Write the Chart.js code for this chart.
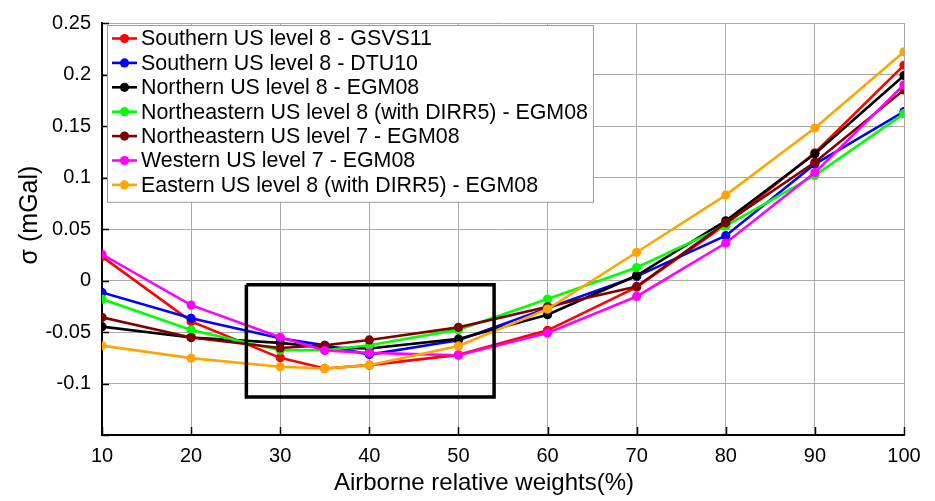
<!DOCTYPE html>
<html>
<head>
<meta charset="utf-8">
<script src="https://cdn.jsdelivr.net/npm/chart.js@4/dist/chart.umd.min.js"></script>
<style>
  html, body { margin: 0; padding: 0; background: #fff; }
  canvas { display: block; }
</style>
</head>
<body>
<canvas id="c" width="935" height="501"></canvas>
<script>
// Airborne relative weight (%) on the x axis
const weights = [10, 20, 30, 35, 40, 50, 60, 70, 80, 90, 100];

// Standard deviation (mGal) for each region / model combination
const southernGSVS11 = [0.0232, -0.0397, -0.0751, -0.0854, -0.0822, -0.0722, -0.0484, -0.0065, 0.0545, 0.124, 0.209];
const southernDTU10 = [-0.0116, -0.0367, -0.0560, -0.0630, -0.0719, -0.0580, -0.0270, 0.0040, 0.0435, 0.113, 0.164];
const northernEGM08 = [-0.0448, -0.0554, -0.0606, -0.0650, -0.0660, -0.0567, -0.0332, 0.0048, 0.0580, 0.123, 0.199];
const northeastern8EGM08 = [-0.0180, -0.0480, -0.0677, -0.0677, -0.0629, -0.0477, -0.0180, 0.0126, 0.0530, 0.102, 0.162];
const northeastern7EGM08 = [-0.0358, -0.0554, -0.0655, -0.0629, -0.0577, -0.0455, -0.0255, -0.0058, 0.0560, 0.1148, 0.185];
const western7EGM08 = [0.0254, -0.0239, -0.0551, -0.0680, -0.0703, -0.0725, -0.0510, -0.0155, 0.0364, 0.1048, 0.190];
const eastern8EGM08 = [-0.0632, -0.0754, -0.0838, -0.0854, -0.0822, -0.0635, -0.0277, 0.0274, 0.0829, 0.148, 0.222];

const seriesNames = [
  'Southern US level 8 - GSVS11',
  'Southern US level 8 - DTU10',
  'Northern US level 8 - EGM08',
  'Northeastern US level 8 (with DIRR5) - EGM08',
  'Northeastern US level 7 - EGM08',
  'Western US level 7 - EGM08',
  'Eastern US level 8 (with DIRR5) - EGM08'
];
const seriesValues = [southernGSVS11, southernDTU10, northernEGM08, northeastern8EGM08,
                      northeastern7EGM08, western7EGM08, eastern8EGM08];
const seriesColors = ['#ff0000', '#0000ff', '#000000', '#00ff00', '#800000', '#ff00ff', '#ffa500'];

// Highlighted window around the minimum (x from/to, sigma from/to)
const windowX = [26.2, 54.0];
const windowY = [-0.1131, -0.0042];

// Axis extents and titles
const xRange = [10, 100];
const yRange = [-0.15, 0.25];
const xTitle = 'Airborne relative weights(%)';
const yTitle = 'σ (mGal)';

const FONT = '"Liberation Sans", Arial, sans-serif';

const datasets = seriesValues.map((vals, i) => ({
  label: seriesNames[i],
  data: weights.map((w, k) => ({ x: w, y: vals[k] })),
  borderColor: seriesColors[i],
  backgroundColor: seriesColors[i],
  pointBackgroundColor: seriesColors[i],
  pointBorderColor: seriesColors[i],
  borderWidth: 2.6,
  pointRadius: 4.6,
  pointBorderWidth: 0,
  tension: 0,
  order: seriesValues.length - i
}));

datasets.push({
  label: '__window',
  data: [
    { x: windowX[0], y: windowY[1] }, { x: windowX[1], y: windowY[1] },
    { x: windowX[1], y: windowY[0] }, { x: windowX[0], y: windowY[0] },
    { x: windowX[0], y: windowY[1] }
  ],
  borderColor: '#000',
  borderWidth: 3.5,
  pointRadius: 0,
  borderJoinStyle: 'miter',
  tension: 0,
  order: 0
});

// Inward tick marks on the left and bottom axes
const inwardTicks = {
  id: 'inwardTicks',
  afterDatasetsDraw(chart) {
    const { ctx, chartArea: a, scales } = chart;
    ctx.save();
    ctx.strokeStyle = '#000';
    ctx.lineWidth = 1.5;
    ctx.beginPath();
    scales.y.ticks.forEach(t => {
      const y = Math.round(scales.y.getPixelForValue(t.value)) + 0.5;
      ctx.moveTo(a.left, y); ctx.lineTo(a.left + 7, y);
    });
    scales.x.ticks.forEach(t => {
      const x = Math.round(scales.x.getPixelForValue(t.value)) + 0.5;
      ctx.moveTo(x, a.bottom); ctx.lineTo(x, a.bottom - 8);
    });
    ctx.stroke();
    ctx.restore();
  }
};

// Axis titles
const axisTitles = {
  id: 'axisTitles',
  afterDraw(chart) {
    const ctx = chart.ctx;
    ctx.save();
    ctx.fillStyle = '#000';
    ctx.textAlign = 'center';
    ctx.textBaseline = 'middle';
    ctx.font = '24px ' + FONT;
    ctx.fillText(xTitle, 484, 483);
    ctx.font = '25px ' + FONT;
    ctx.translate(30, 215);
    ctx.rotate(-Math.PI / 2);
    ctx.fillText(yTitle, 0, 0);
    ctx.restore();
  }
};

// Boxed legend in the upper-left corner of the plot
const boxLegend = {
  id: 'boxLegend',
  afterDraw(chart) {
    const ctx = chart.ctx;
    ctx.save();
    ctx.font = '21.4px ' + FONT;
    let maxW = 0;
    seriesNames.forEach(n => { maxW = Math.max(maxW, ctx.measureText(n).width); });
    const left = 107, top = 25;
    const rowH = 24.4;
    const w = 141 + maxW + 5 - left;
    const h = rowH * seriesNames.length + 6;
    ctx.fillStyle = '#fff';
    ctx.fillRect(left, top, w, h);
    ctx.strokeStyle = '#9a9a9a';
    ctx.lineWidth = 1;
    ctx.strokeRect(left + 0.5, top + 0.5, w, h);
    seriesNames.forEach((n, i) => {
      const y = 38.5 + i * rowH;
      ctx.strokeStyle = seriesColors[i];
      ctx.lineWidth = 2.6;
      ctx.beginPath();
      ctx.moveTo(112, y); ctx.lineTo(137, y);
      ctx.stroke();
      ctx.fillStyle = seriesColors[i];
      ctx.beginPath();
      ctx.arc(124.5, y, 4.6, 0, Math.PI * 2);
      ctx.fill();
      ctx.fillStyle = '#000';
      ctx.textAlign = 'left';
      ctx.textBaseline = 'middle';
      ctx.fillText(n, 141, y + 1);
    });
    ctx.restore();
  }
};

new Chart(document.getElementById('c'), {
  type: 'line',
  data: { datasets },
  options: {
    responsive: false,
    animation: false,
    devicePixelRatio: 1,
    layout: { padding: { left: 0, right: 31, top: 20, bottom: 0 } },
    plugins: { legend: { display: false }, tooltip: { enabled: false } },
    scales: {
      x: {
        type: 'linear',
        min: xRange[0], max: xRange[1],
        afterFit: s => { s.height = 66; },
        ticks: {
          stepSize: 10,
          padding: 9,
          color: '#000',
          font: { family: FONT, size: 20 }
        },
        grid: { color: '#aaaaaa', lineWidth: 1, drawTicks: false },
        border: { color: '#000', width: 2 }
      },
      y: {
        min: yRange[0], max: yRange[1],
        afterFit: s => { s.width = 102; },
        ticks: {
          stepSize: 0.05,
          padding: 11,
          color: '#000',
          font: { family: FONT, size: 20 },
          callback: v => (v < yRange[0] + 0.001 ? '' : String(Number(v.toFixed(2))))
        },
        grid: { color: '#aaaaaa', lineWidth: 1, drawTicks: false },
        border: { color: '#000', width: 2 }
      }
    }
  },
  plugins: [inwardTicks, axisTitles, boxLegend]
});
</script>
</body>
</html>
